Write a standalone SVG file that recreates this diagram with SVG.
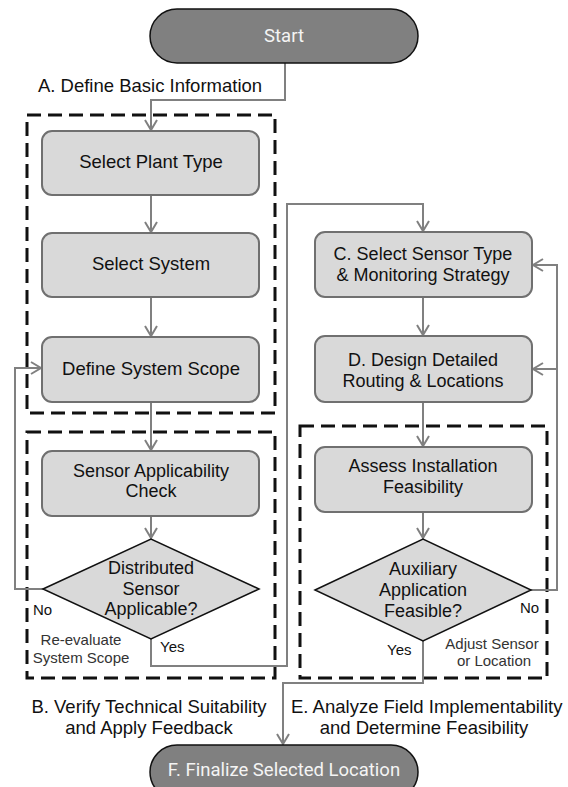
<svg xmlns="http://www.w3.org/2000/svg" width="568" height="787" viewBox="0 0 568 787">
  <defs>
    <marker id="arrow" markerUnits="userSpaceOnUse" markerWidth="14" markerHeight="14" viewBox="0 0 12 14" refX="11" refY="7" orient="auto">
      <path d="M1,1 L11,7 L1,13" fill="none" stroke="#808080" stroke-width="2"/>
    </marker>
  </defs>
  <style>
    text { font-family: "Liberation Sans", Arial, sans-serif; fill: #111; }
    .term { fill: #808080; stroke: #111; stroke-width: 1.5; }
    .termtxt { font-family: Roboto, "Liberation Sans", sans-serif; fill: #f4f4f4; font-size: 18.5px; text-anchor: middle; }
    .box { fill: #d9d9d9; stroke: #707070; stroke-width: 2; }
    .dia { fill: #d9d9d9; stroke: #111; stroke-width: 1.5; }
    .txt { font-size: 18px; text-anchor: middle; }
    .one { font-size: 18.5px; }
    .grp { fill: none; stroke: #111; stroke-width: 3; stroke-dasharray: 14 7; }
    .lbl { font-size: 18.5px; text-anchor: middle; }
    .note { font-size: 15px; fill: #333; text-anchor: middle; }
    .yn { font-size: 15px; }
    .conn path { fill: none; stroke: #808080; stroke-width: 2; }
  </style>

  <rect width="568" height="787" fill="#ffffff"/>

  <!-- group frames -->
  <g id="frames">
    <rect class="grp" x="27" y="115" width="248" height="298"/>
    <rect class="grp" x="27" y="432" width="248" height="246"/>
    <rect class="grp" x="300" y="426" width="247" height="252"/>
  </g>

  <!-- connectors -->
  <g id="connectors" class="conn">
    <path d="M285,63 V100 H151 V130" marker-end="url(#arrow)"/>
    <path d="M151,195 V232" marker-end="url(#arrow)"/>
    <path d="M151,297 V336" marker-end="url(#arrow)"/>
    <path d="M151,402 V450" marker-end="url(#arrow)"/>
    <path d="M151,487 V538" marker-end="url(#arrow)"/>
    <path d="M43,589 H15 V368 H41" marker-end="url(#arrow)"/>
    <path d="M151,639 V666 H287 V204 H423 V231" marker-end="url(#arrow)"/>
    <path d="M423,297 V335" marker-end="url(#arrow)"/>
    <path d="M423,402 V446" marker-end="url(#arrow)"/>
    <path d="M423,512 V538" marker-end="url(#arrow)"/>
    <path d="M531,590 H557 V265 H533" marker-end="url(#arrow)"/>
    <path d="M557,369 H533" marker-end="url(#arrow)"/>
    <path d="M423,641 V683 H283 V744" marker-end="url(#arrow)"/>
  </g>

  <!-- nodes -->
  <g id="start">
    <rect class="term" x="150" y="9" width="268" height="54" rx="27"/>
    <text class="termtxt" x="284" y="42">Start</text>
  </g>

  <g id="plant-type">
    <rect class="box" x="42" y="131" width="217" height="64" rx="10"/>
    <text class="txt one" x="151" y="168">Select Plant Type</text>
  </g>

  <g id="system">
    <rect class="box" x="42" y="233" width="217" height="64" rx="10"/>
    <text class="txt one" x="151" y="270">Select System</text>
  </g>

  <g id="scope">
    <rect class="box" x="42" y="337" width="217" height="65" rx="10"/>
    <text class="txt one" x="151" y="375">Define System Scope</text>
  </g>

  <g id="applicability">
    <rect class="box" x="42" y="451" width="217" height="65" rx="10"/>
    <text class="txt" x="151" y="476.5">Sensor Applicability</text>
    <text class="txt" x="151" y="497">Check</text>
  </g>

  <g id="distributed">
    <polygon class="dia" points="43,589 151,539 259,589 151,639"/>
    <text class="txt" x="151" y="574">Distributed</text>
    <text class="txt" x="151" y="594.5">Sensor</text>
    <text class="txt" x="151" y="615">Applicable?</text>
  </g>

  <g id="sensor-type">
    <rect class="box" x="315" y="232" width="217" height="65" rx="10"/>
    <text class="txt" x="423" y="260">C. Select Sensor Type</text>
    <text class="txt" x="423" y="281">&amp; Monitoring Strategy</text>
  </g>

  <g id="routing">
    <rect class="box" x="315" y="336" width="217" height="66" rx="10"/>
    <text class="txt" x="423" y="366">D. Design Detailed</text>
    <text class="txt" x="423" y="387">Routing &amp; Locations</text>
  </g>

  <g id="installation">
    <rect class="box" x="315" y="447" width="217" height="65" rx="10"/>
    <text class="txt" x="423" y="472">Assess Installation</text>
    <text class="txt" x="423" y="493">Feasibility</text>
  </g>

  <g id="auxiliary">
    <polygon class="dia" points="315,590 423,539 531,590 423,641"/>
    <text class="txt" x="423" y="575">Auxiliary</text>
    <text class="txt" x="423" y="596">Application</text>
    <text class="txt" x="423" y="617">Feasible?</text>
  </g>

  <g id="finalize">
    <rect class="term" x="150" y="745" width="268" height="54" rx="27"/>
    <text class="termtxt" x="284" y="776">F. Finalize Selected Location</text>
  </g>

  <!-- branch and section labels -->
  <g id="labels">
    <text class="lbl" x="150" y="92">A. Define Basic Information</text>
    <text class="lbl" x="149" y="713">B. Verify Technical Suitability</text>
    <text class="lbl" x="149" y="734">and Apply Feedback</text>
    <text class="lbl" x="291" y="713" style="text-anchor:start">E. Analyze Field Implementability</text>
    <text class="lbl" x="424" y="734">and Determine Feasibility</text>

    <text class="yn" x="33" y="615">No</text>
    <text class="yn" x="160" y="652">Yes</text>
    <text class="note" x="81" y="645">Re-evaluate</text>
    <text class="note" x="81" y="663">System Scope</text>

    <text class="yn" x="520" y="613">No</text>
    <text class="yn" x="387" y="655">Yes</text>
    <text class="note" x="492" y="649">Adjust Sensor</text>
    <text class="note" x="494" y="666">or Location</text>
  </g>
</svg>
